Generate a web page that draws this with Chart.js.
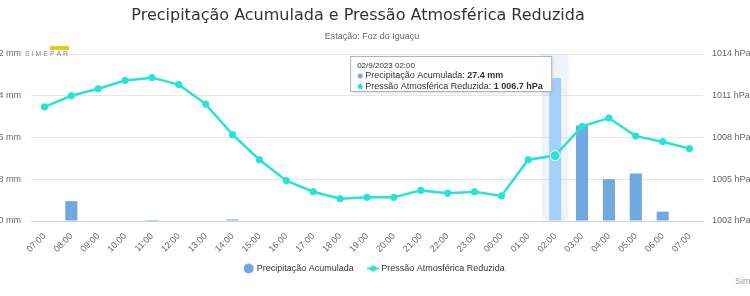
<!DOCTYPE html>
<html>
<head>
<meta charset="utf-8">
<script src="https://cdn.jsdelivr.net/npm/chart.js@4"></script>
<style>
  html, body { margin: 0; padding: 0; background: #fff; }
  #wrap { position: relative; width: 750px; height: 296px; overflow: hidden; }
</style>
</head>
<body>
<div id="wrap"><canvas id="chart" width="750" height="296"></canvas></div>
<script>
// dados
const horas = ["07:00", "08:00", "09:00", "10:00", "11:00", "12:00", "13:00", "14:00", "15:00",
  "16:00", "17:00", "18:00", "19:00", "20:00", "21:00", "22:00", "23:00", "00:00",
  "01:00", "02:00", "03:00", "04:00", "05:00", "06:00", "07:00"];
const precipitacao = [0, 3.8, 0, 0, 0.2, 0, 0, 0.3, 0, 0, 0, 0, 0, 0, 0, 0, 0, 0,
  0, 27.4, 18.3, 8.0, 9.1, 1.8, 0];
const pressao = [1010.2, 1011.0, 1011.5, 1012.1, 1012.3, 1011.8, 1010.4, 1008.2, 1006.4,
  1004.9, 1004.1, 1003.6, 1003.7, 1003.7, 1004.2, 1004.0, 1004.1, 1003.8,
  1006.4, 1006.7, 1008.8, 1009.4, 1008.1, 1007.7, 1007.2];
const ticksMm = [0, 8, 16, 24, 32];
const ticksHpa = [1002, 1005, 1008, 1011, 1014];
const idxAtivo = 19; // 02:00 (tooltip)

const FONTE = "'Liberation Sans', Arial, sans-serif";
const FONTE_TITULO = "'DejaVu Sans', Verdana, sans-serif";
const corBarra = "#70a8e0";
const corBarraHover = "#a2d0f8";
const corLinha = "#28e2d6";

// marcador da legenda para a linha (traço + ponto)
const marcadorLinha = document.createElement("canvas");
marcadorLinha.width = 12;
marcadorLinha.height = 8;
(function () {
  const c = marcadorLinha.getContext("2d");
  c.strokeStyle = corLinha;
  c.lineWidth = 2;
  c.beginPath();
  c.moveTo(0, 4);
  c.lineTo(12, 4);
  c.stroke();
  c.fillStyle = corLinha;
  c.beginPath();
  c.arc(6, 4, 3, 0, Math.PI * 2);
  c.fill();
})();

function fmtHpa(v) {
  const s = v.toFixed(1);
  const [i, d] = s.split(".");
  return i.replace(/\B(?=(\d{3})+(?!\d))/g, " ") + "." + d;
}

// sobe um pouco a legenda, sem mexer na área do gráfico
const legendaPlugin = {
  id: "legendaAjuste",
  afterLayout(chart) {
    if (chart.legend) {
      chart.legend.top -= 5;
      chart.legend.bottom -= 5;
    }
  },
};

// faixa de destaque na categoria ativa
const faixaPlugin = {
  id: "faixa",
  beforeDatasetsDraw(chart) {
    const { ctx, chartArea, scales } = chart;
    const x = scales.x.getPixelForValue(idxAtivo);
    const w = (chartArea.right - chartArea.left) / horas.length;
    ctx.save();
    ctx.fillStyle = "rgba(204,214,235,0.3)";
    ctx.fillRect(x - w / 2, chartArea.top, w, chartArea.bottom - chartArea.top);
    ctx.restore();
  },
};

// título, tooltip fixo, logo e créditos
const extrasPlugin = {
  id: "extras",
  afterDraw(chart) {
    const { ctx, scales } = chart;
    ctx.save();
    ctx.textBaseline = "middle";

    // título e subtítulo
    ctx.textAlign = "center";
    ctx.fillStyle = "#333";
    ctx.font = "16px " + FONTE_TITULO;
    ctx.fillText("Precipitação Acumulada e Pressão Atmosférica Reduzida", 358, 16);
    ctx.fillStyle = "#666";
    ctx.font = "9px " + FONTE;
    ctx.fillText("Estação: Foz do Iguaçu", 372, 37);
    ctx.textAlign = "left";

    // logo
    ctx.fillStyle = "#f5c518";
    ctx.fillRect(50, 46, 19, 4);
    ctx.fillStyle = "#888";
    ctx.font = "7px " + FONTE;
    ctx.fillText("S I M E P A R", 25, 54);

    // créditos
    ctx.fillStyle = "#999";
    ctx.font = "9px " + FONTE;
    ctx.fillText("Simepar", 735, 282);

    // tooltip
    const px = scales.x.getPixelForValue(idxAtivo);
    const bw = 202, bh = 36;
    const bx = px - bw - 3, by = 56;
    ctx.shadowColor = "rgba(0,0,0,0.15)";
    ctx.shadowOffsetX = 1;
    ctx.shadowOffsetY = 1;
    ctx.shadowBlur = 3;
    ctx.fillStyle = "rgba(255,255,255,0.96)";
    ctx.fillRect(bx, by, bw, bh);
    ctx.shadowColor = "transparent";
    ctx.strokeStyle = "#a8b4c4";
    ctx.lineWidth = 1;
    ctx.strokeRect(bx + 0.5, by + 0.5, bw - 1, bh - 1);

    ctx.fillStyle = "#333";
    ctx.font = "8px " + FONTE;
    ctx.fillText("02/9/2023 02:00", bx + 7, by + 10);

    const linhas = [
      [corBarra, "Precipitação Acumulada: ", precipitacao[idxAtivo].toFixed(1) + " mm"],
      [corLinha, "Pressão Atmosférica Reduzida: ", fmtHpa(pressao[idxAtivo]) + " hPa"],
    ];
    linhas.forEach((l, i) => {
      const y = by + 20 + i * 10.5;
      ctx.fillStyle = l[0];
      ctx.beginPath();
      ctx.arc(bx + 10, y, 2.5, 0, Math.PI * 2);
      ctx.fill();
      ctx.fillStyle = "#333";
      ctx.font = "9px " + FONTE;
      ctx.fillText(l[1], bx + 15, y);
      const w = ctx.measureText(l[1]).width;
      ctx.font = "bold 9px " + FONTE;
      ctx.fillText(l[2], bx + 15 + w, y);
    });
    ctx.restore();
  },
};

const ctx = document.getElementById("chart").getContext("2d");
new Chart(ctx, {
  data: {
    labels: horas,
    datasets: [
      {
        type: "line",
        label: "Pressão Atmosférica Reduzida",
        data: pressao,
        yAxisID: "yHpa",
        borderColor: corLinha,
        backgroundColor: corLinha,
        borderWidth: 2.5,
        tension: 0,
        pointRadius: (c) => (c.dataIndex === idxAtivo ? 5 : 3.2),
        pointBorderColor: (c) => (c.dataIndex === idxAtivo ? "#fff" : corLinha),
        pointBorderWidth: 1,
        pointStyle: "circle",
        order: 0,
      },
      {
        type: "bar",
        label: "Precipitação Acumulada",
        data: precipitacao,
        yAxisID: "yMm",
        backgroundColor: (c) => (c.dataIndex === idxAtivo ? corBarraHover : corBarra),
        barPercentage: 0.9,
        categoryPercentage: 0.5,
        pointStyle: "circle",
        order: 1,
      },
    ],
  },
  options: {
    responsive: false,
    animation: false,
    events: [],
    layout: { padding: { left: 0, right: 0, top: 54, bottom: 8 } },
    scales: {
      x: {
        offset: true,
        grid: { display: false },
        border: { color: "#ccd6eb" },
        afterFit: (s) => { s.height = 32; },
        ticks: {
          color: "#666",
          font: { family: FONTE, size: 9 },
          maxRotation: 45,
          minRotation: 45,
          autoSkip: false,
          padding: 2,
        },
      },
      yMm: {
        position: "left",
        min: 0,
        max: 32,
        afterBuildTicks: (s) => { s.ticks = ticksMm.map((v) => ({ value: v })); },
        afterFit: (s) => { s.width = 31; },
        grid: { color: "#e6e6e6", drawTicks: false },
        border: { display: false },
        ticks: {
          color: "#666",
          font: { family: FONTE, size: 9 },
          padding: 10,
          callback: (v) => v + " mm",
        },
      },
      yHpa: {
        position: "right",
        min: 1002,
        max: 1014,
        afterBuildTicks: (s) => { s.ticks = ticksHpa.map((v) => ({ value: v })); },
        afterFit: (s) => { s.width = 47; },
        grid: { display: false, drawTicks: false },
        border: { display: false },
        ticks: {
          color: "#666",
          font: { family: FONTE, size: 9 },
          padding: 9,
          callback: (v) => v + " hPa",
        },
      },
    },
    plugins: {
      legend: {
        position: "bottom",
        reverse: true,
        labels: {
          color: "#333",
          font: { family: FONTE, size: 9 },
          usePointStyle: true,
          boxWidth: 7,
          boxHeight: 7,
          padding: 16,
          generateLabels: (chart) =>
            chart.data.datasets.map((d, i) => ({
              text: d.label,
              datasetIndex: i,
              fillStyle: corBarra,
              strokeStyle: corBarra,
              lineWidth: 0,
              pointStyle: d.type === "line" ? marcadorLinha : "circle",
              fontColor: "#333",
            })),
        },
      },
      tooltip: { enabled: false },
    },
  },
  plugins: [legendaPlugin, faixaPlugin, extrasPlugin],
});
</script>
</body>
</html>
